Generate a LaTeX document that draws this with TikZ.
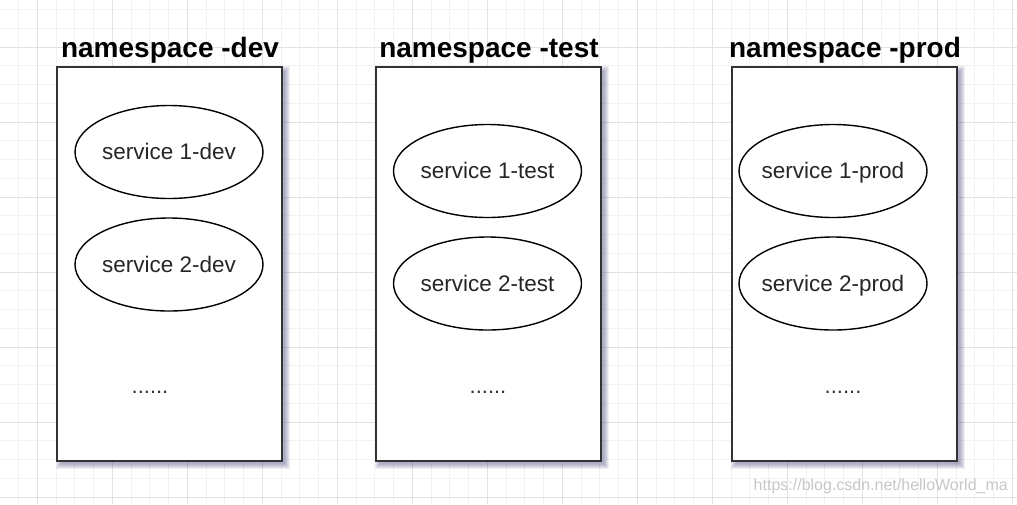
\documentclass[tikz,border=0pt]{standalone}
\usepackage{fontspec}
\setmainfont{Liberation Sans}
\usetikzlibrary{shapes.geometric}
\definecolor{minorgrid}{HTML}{F2F2F2}
\definecolor{majorgrid}{HTML}{E2E2E2}
\definecolor{boxline}{HTML}{333333}
\definecolor{shadowcol}{HTML}{4A4A80}
\tikzset{
  nsbox/.style={draw=boxline, line width=2pt, fill=white, minimum width=225pt, minimum height=394pt},
  shadelayer/.style={fill=shadowcol, opacity=0.09},
  nstitle/.style={font=\bfseries\fontsize{28}{32}\selectfont, inner sep=0pt, anchor=base},
  svc/.style={ellipse, draw=black, line width=1.4pt, fill=white, minimum width=188pt, minimum height=93pt, inner sep=0pt},
  svctext/.style={font=\fontsize{22.5}{26}\selectfont, text=black!85, inner sep=0pt, anchor=base},
  dots/.style={font=\fontsize{22}{26}\selectfont, text=black!80, inner sep=0pt, anchor=base},
}
\newcommand{\boxshadow}[1]{%
  \foreach \e in {4.5,3.5,2.5,1.5,0.5,-0.5} {%
    \fill[shadelayer] ([shift={(3.5-\e,3.5-\e)}]#1.north west) rectangle ([shift={(3.5+\e,3.5+\e)}]#1.south east);
  }%
}
\begin{document}
\begin{tikzpicture}[x=1pt,y=-1pt]
\useasboundingbox (0,0) rectangle (1017,504);
\fill[white] (0,0) rectangle (1017,504);
% minor grid
\foreach \i in {0,...,54} {\draw[minorgrid, line width=1pt] ({-0.25+18.75*\i},0) -- ({-0.25+18.75*\i},504);}
\foreach \j in {0,...,27} {\draw[minorgrid, line width=1pt] (0,{-9.25+18.75*\j}) -- (1017,{-9.25+18.75*\j});}
% major grid
\foreach \i in {0,...,13} {\draw[majorgrid, line width=1pt] ({37.25+75*\i},0) -- ({37.25+75*\i},504);}
\foreach \j in {0,...,6} {\draw[majorgrid, line width=1pt] (0,{47+75*\j}) -- (1017,{47+75*\j});}

% box positions (placeholders for shadows)
\path (169.5,264) node[minimum width=225pt, minimum height=394pt, inner sep=0pt] (pdev) {};
\path (488.5,264) node[minimum width=225pt, minimum height=394pt, inner sep=0pt] (ptest) {};
\path (844.5,264) node[minimum width=225pt, minimum height=394pt, inner sep=0pt] (pprod) {};
\boxshadow{pdev}
\boxshadow{ptest}
\boxshadow{pprod}

% boxes
\node[nsbox] (dev) at (169.5,264) {};
\node[nsbox] (test) at (488.5,264) {};
\node[nsbox] (prod) at (844.5,264) {};

\node[nstitle] (tdev) at (170,57.5) {namespace -dev};
\node[nstitle] (ttest) at (489,57.5) {namespace -test};
\node[nstitle] (tprod) at (845,57.5) {namespace -prod};

% services
\node[svc] (s1dev) at (169,152) {};
\node[svc] (s2dev) at (169,264.5) {};
\node[svc] (s1test) at (487.5,171) {};
\node[svc] (s2test) at (487.5,283.5) {};
\node[svc] (s1prod) at (833,171) {};
\node[svc] (s2prod) at (833,283.5) {};

\node[svctext] (l1dev) at ([yshift=-7.5pt]s1dev.center) {service 1-dev};
\node[svctext] (l2dev) at ([yshift=-7.5pt]s2dev.center) {service 2-dev};
\node[svctext] (l1test) at ([yshift=-7.5pt]s1test.center) {service 1-test};
\node[svctext] (l2test) at ([yshift=-7.5pt]s2test.center) {service 2-test};
\node[svctext] (l1prod) at ([yshift=-7.5pt]s1prod.center) {service 1-prod};
\node[svctext] (l2prod) at ([yshift=-7.5pt]s2prod.center) {service 2-prod};

\node[dots] (ddev) at (150,393) {......};
\node[dots] (dtest) at (488,393) {......};
\node[dots] (dprod) at (843,393) {......};

\node[font=\fontsize{16}{19}\selectfont, text=black!22, anchor=east, inner sep=0pt] (wm) at (1008,486) {https://blog.csdn.net/helloWorld\_ma};
\end{tikzpicture}
\end{document}
